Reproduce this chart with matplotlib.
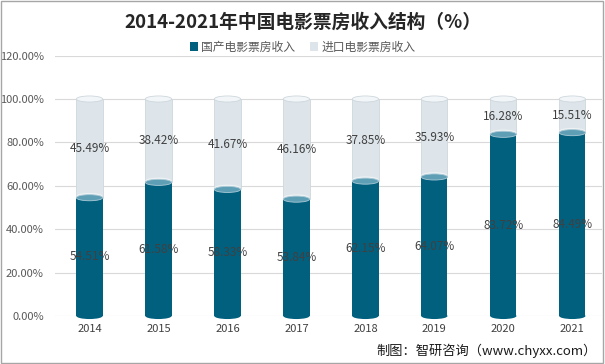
import matplotlib
matplotlib.use("Agg")
import matplotlib.pyplot as plt
from matplotlib.patches import Ellipse, Patch, Rectangle

plt.rcParams['font.family'] = ['Noto Sans CJK SC', 'DejaVu Sans']

years = ['2014', '2015', '2016', '2017', '2018', '2019', '2020', '2021']
domestic = [54.51, 61.58, 58.33, 53.84, 62.15, 64.07, 83.72, 84.49]
imported = [45.49, 38.42, 41.67, 46.16, 37.85, 35.93, 16.28, 15.51]
yticks = [0, 20, 40, 60, 80, 100, 120]
ytick_labels = ['0.00%', '20.00%', '40.00%', '60.00%', '80.00%', '100.00%', '120.00%']
series_names = ['国产电影票房收入', '进口电影票房收入']
title = '2014-2021年中国电影票房收入结构（%）'
source = '制图：智研咨询（www.chyxx.com）'

dark = '#02607f'
dark_top = '#5f9fb6'
light = '#dde5ea'
light_top = '#f3f6f8'
light_edge = '#cdd7dd'

fig = plt.figure(figsize=(6.05, 3.64), dpi=100)
ax = fig.add_axes([55/605, 48/364, 547/605, 260.4/364])
ax.set_xlim(-0.5, 7.43)
ax.set_ylim(0, 120)

w = 0.38
eh = 2.8
xs = list(range(len(years)))

for i, x in enumerate(xs):
    d = domestic[i]
    m = imported[i]
    total = d + m
    # light (imported) part
    ax.bar(x, m, bottom=d, width=w, color=light, edgecolor=light_edge, lw=0.6, zorder=2)
    ax.add_patch(Ellipse((x, total), w, eh, facecolor=light_top, edgecolor=light_edge, lw=0.6, zorder=3))
    ax.add_patch(Ellipse((x, d + 0.8), w, eh, facecolor='#eef2f4', edgecolor='none', zorder=2.5))
    # dark (domestic) part
    ax.add_patch(Ellipse((x, 0), w, eh, facecolor=dark, edgecolor='none', zorder=2, clip_on=False))
    ax.bar(x, d, width=w, color=dark, edgecolor='none', zorder=3)
    ax.add_patch(Ellipse((x, d), w, eh, facecolor=dark_top, edgecolor='#a9c9d6', lw=0.6, zorder=4))
    # labels
    ax.text(x, d / 2, f'{d:.2f}%', ha='center', va='center', fontsize=8.5, color='#404040', zorder=5)
    ax.text(x, d + m / 2, f'{m:.2f}%', ha='center', va='center', fontsize=8.5, color='#404040', zorder=5)

ax.set_yticks(yticks)
ax.set_yticklabels(ytick_labels, fontsize=8, color='#595959')
ax.set_xticks(xs)
ax.set_xticklabels(years, fontsize=8, color='#404040')
ax.tick_params(axis='both', length=0)
ax.tick_params(axis='y', pad=8)
ax.tick_params(axis='x', pad=6)
ax.grid(axis='y', color='#d9d9d9', lw=0.8, zorder=0)
ax.set_axisbelow(True)
for s in ax.spines.values():
    s.set_visible(False)

fig.text(0.5, 1 - 22/364, title, ha='center', va='center', fontsize=13.5, fontweight='bold', color='#262626')

handles = [Patch(facecolor=dark, edgecolor='none'), Patch(facecolor=light, edgecolor='none')]
fig.legend(handles, series_names, loc='center', bbox_to_anchor=(0.5, 1 - 47/364), ncol=2, frameon=False,
           fontsize=8.5, handlelength=0.7, handleheight=0.7, handletextpad=0.3, columnspacing=1.2,
           labelcolor='#595959')

fig.text(597/605, 1 - 351/364, source, ha='right', va='center', fontsize=9.5, color='#1a1a1a')

fig.patches.append(Rectangle((0.002, 0.003), 0.994, 0.994, transform=fig.transFigure, fill=False,
                             edgecolor='#a6a6a6', lw=1))

fig.savefig('out.png', dpi=100)
